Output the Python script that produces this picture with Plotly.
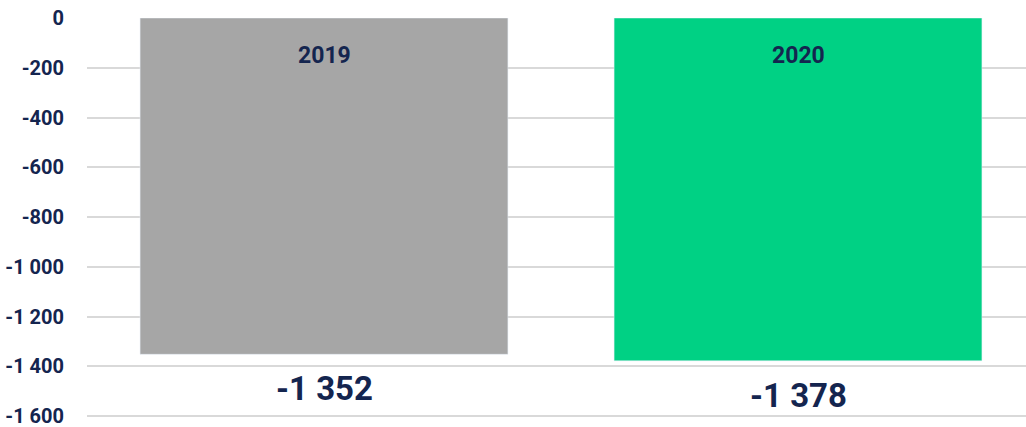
import plotly.graph_objects as go

# datos
anios = ["2019", "2020"]
valores = [-1352, -1378]
colores = ["#A6A6A6", "#00D184"]
etiquetas_valor = ["-1 352", "-1 378"]
ticks_y = [0, -200, -400, -600, -800, -1000, -1200, -1400, -1600]
ticks_texto = ["0", "-200", "-400", "-600", "-800", "-1 000", "-1 200", "-1 400", "-1 600"]

azul = "#14254F"
fuente = "Roboto, sans-serif"

fig = go.Figure()

fig.add_trace(go.Bar(
    x=anios,
    y=valores,
    marker_color=colores,
    width=0.776,
    hoverinfo="skip"
))

# año dentro de la barra (arriba) y valor debajo de la barra
for i, (anio, val, txt) in enumerate(zip(anios, valores, etiquetas_valor)):
    fig.add_annotation(x=i, y=0, text=f"<b>{anio}</b>", showarrow=False,
                       xref="x", yref="y", yanchor="top", yshift=-22,
                       font=dict(family=fuente, size=23, color=azul))
    fig.add_annotation(x=i, y=val, text=f"<b>{txt}</b>", showarrow=False,
                       xref="x", yref="y", yanchor="top", yshift=-13,
                       font=dict(family=fuente, size=33, color=azul))

fig.update_layout(
    width=1026, height=427,
    margin=dict(l=87, r=0, t=18, b=8, autoexpand=False),
    plot_bgcolor="white",
    paper_bgcolor="white",
    showlegend=False,
    font=dict(family=fuente, color=azul),
    xaxis=dict(type="category", range=[-0.5, 1.481], showticklabels=False,
               showgrid=False, zeroline=False, showline=False, automargin=False),
    yaxis=dict(range=[-1612, 0], tickvals=ticks_y, ticktext=ticks_texto,
               showgrid=True, gridcolor="#D9D9D9",
               gridwidth=2, zeroline=False, showline=False, automargin=False,
               ticklabelstandoff=22, ticklabeloverflow="allow",
               tickfont=dict(family=fuente, size=20, color=azul, weight="bold"))
)

fig.write_html("out.html", config={"displayModeBar": False},
               post_script="document.body.style.margin='0';")
